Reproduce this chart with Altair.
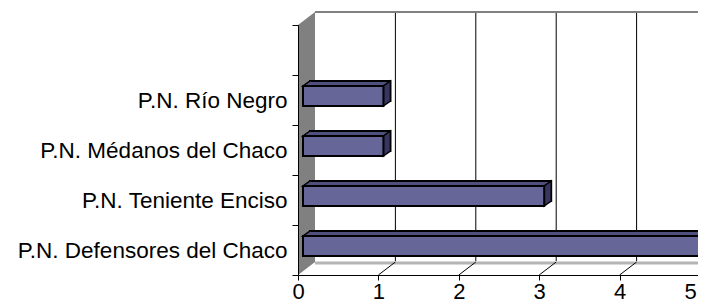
import altair as alt
import pandas as pd

# ---- data ----
categories = ["P.N. Defensores del Chaco", "P.N. Teniente Enciso",
              "P.N. Médanos del Chaco", "P.N. Río Negro"]
values = [5, 3, 1, 1]
x_ticks = [0, 1, 2, 3, 4, 5]
empty_slot = " "          # unused top category slot of the Excel chart

# ---- style ----
W, H = 400, 250           # plot area (canvas kept inside the 706x308 window)
XRANGE = 402              # pixel length of the front value axis (0..5)
FONT = "Liberation Sans"
FRONT = "#666699"
TOP = "#50507f"
SIDE = "#363660"
WALL = "#808080"

bars = pd.DataFrame({"park": categories, "value": values})
ticks = pd.DataFrame({"t": x_ticks})
one = pd.DataFrame({"t": [0]})

xs = alt.Scale(domain=[x_ticks[0], x_ticks[-1]], nice=False, zero=True, range=[0, XRANGE])
ys = alt.Scale(domain=[empty_slot] + categories[::-1], paddingInner=0, paddingOuter=0)

X_AXIS = alt.Axis(values=x_ticks, title=None, tickSize=5, labelPadding=1, grid=False,
                  domainColor="black", tickColor="black", labelColor="black",
                  labelFont=FONT, labelFontSize=22, labelFlush=False, labelOverlap=False,
                  labelOffset=alt.condition(f"datum.value == {x_ticks[-1]}",
                                            alt.value(-10), alt.value(0)),
                  zindex=1)
Y_AXIS = alt.Axis(title=None, tickBand="extent", tickSize=6, labelPadding=5, grid=False,
                  domainColor="black", tickColor="black", labelColor="black",
                  labelFont=FONT, labelFontSize=22.5, labelLimit=400, zindex=1)

# custom symbol paths (size=4 -> 1 path unit = 1 px)
WALL_PATH = "M0,0 L0,-250 L17,-263 L17,-13 Z"
TRI_PATH = "M8,-14 L0,-14 L7,-19 L8,-19"
SIDE_PATH = "M0,6 L7,1 L7,-19 L0,-14 Z"

wall = alt.Chart(one).mark_point(shape=WALL_PATH, size=4, filled=True, color=WALL,
                                 opacity=1, strokeWidth=0).encode(
    x=alt.X("t:Q", scale=xs, axis=X_AXIS), y=alt.value(H))

floor_edge = alt.Chart(one).mark_rule(color="#b4b4b4", strokeWidth=3, xOffset=17,
                                      x2Offset=17, yOffset=-12).encode(
    x=alt.X("t:Q", scale=xs, axis=X_AXIS), x2=alt.datum(x_ticks[-1]), y=alt.value(H))

grid = alt.Chart(ticks).transform_filter("datum.t > 0").mark_rule(
    color="black", strokeWidth=1, xOffset=17, yOffset=-13, y2Offset=-13).encode(
    x=alt.X("t:Q", scale=xs, axis=X_AXIS), y=alt.value(0), y2=alt.value(H - 1))

floor_diag = alt.Chart(ticks).transform_filter("datum.t > 0").mark_rule(
    color="black", strokeWidth=1, x2Offset=17, y2Offset=-13).encode(
    x=alt.X("t:Q", scale=xs, axis=X_AXIS), x2=alt.X2("t:Q"), y=alt.value(H), y2=alt.value(H))

top_edge = alt.Chart(one).mark_rule(color=WALL, strokeWidth=2, xOffset=17,
                                    x2Offset=17, yOffset=-13).encode(
    x=alt.X("t:Q", scale=xs, axis=X_AXIS), x2=alt.datum(x_ticks[-1]), y=alt.value(0))

base = alt.Chart(bars)
yenc = alt.Y("park:N", scale=ys, axis=Y_AXIS, sort=None)

back_bar = base.mark_bar(fill=TOP, stroke="black", strokeWidth=2, xOffset=12,
                         x2Offset=12, yOffset=-9, size=20).encode(
    x=alt.X("value:Q", scale=xs, axis=X_AXIS), x2=alt.datum(0), y=yenc)

left_tri = base.mark_point(shape=TRI_PATH, size=4, filled=True, fill=TOP, stroke="black",
                           strokeWidth=1.5, opacity=1, xOffset=5).encode(
    x=alt.X(datum=0, scale=xs, axis=X_AXIS), y=yenc)

side = base.mark_point(shape=SIDE_PATH, size=4, filled=True, fill=SIDE, stroke="black",
                       strokeWidth=1.5, opacity=1, xOffset=5).encode(
    x=alt.X("value:Q", scale=xs, axis=X_AXIS), y=yenc)

front = base.mark_bar(fill=FRONT, stroke="black", strokeWidth=2, xOffset=5,
                      x2Offset=5, yOffset=-4, size=20).encode(
    x=alt.X("value:Q", scale=xs, axis=X_AXIS), x2=alt.datum(0), y=yenc)

chart = alt.layer(wall, floor_edge, grid, floor_diag, top_edge,
                  back_bar, left_tri, side, front).properties(
    width=W, height=H,
    autosize=alt.AutoSizeParams(type="none"),
    padding={"left": 290, "top": 17, "right": 0, "bottom": 25},
    background="white",
).configure_view(strokeWidth=0)

chart.save("out.html", embed_options={"renderer": "svg", "actions": False})
